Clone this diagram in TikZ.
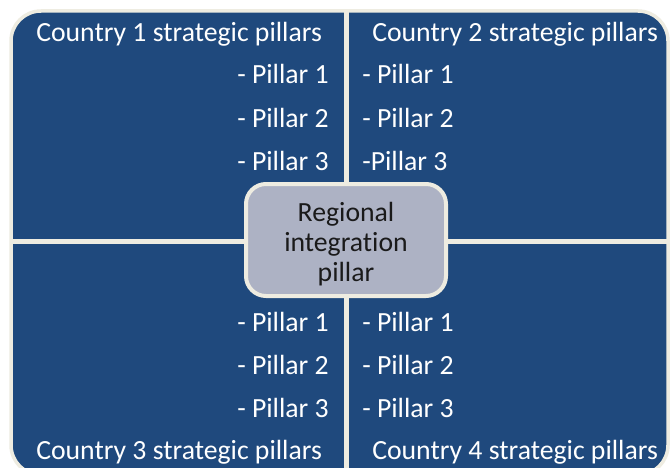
\documentclass[tikz,border=0pt]{standalone}
\usepackage{fontspec}
\setmainfont{Carlito}[Ligatures={NoCommon}]
\definecolor{quadblue}{HTML}{1F497D}
\definecolor{cream}{HTML}{EEECE1}
\definecolor{centerfill}{HTML}{ADB2C4}
\definecolor{centertext}{HTML}{1A1A1A}
\begin{document}
\begin{tikzpicture}[x=0.75pt,y=-0.75pt,
  lbl/.style={text=white,font=\fontsize{20.8}{24}\selectfont,inner sep=0pt},
  ctr/.style={text=centertext,font=\fontsize{20.8}{24}\selectfont,inner sep=0pt,anchor=base}]
\useasboundingbox (0,0) rectangle (670,467);
\fill[white] (0,0) rectangle (670,467);
\begin{scope}
\clip (0,0) rectangle (670,467);
% outer rounded panel
\draw[fill=quadblue,draw=cream,line width=3.5pt*0.75,rounded corners=30*0.75pt] (11,11) rectangle (668,475);
% separators
\fill[cream] (344,11) rectangle (349,475);
\fill[cream] (11,239) rectangle (668,244);
\end{scope}
% central box
\node[draw=cream,fill=centerfill,line width=4pt*0.75,rounded corners=20*0.75pt,
  minimum width=200*0.75pt,minimum height=112*0.75pt,inner sep=0pt] (center) at (346,240) {};
\node[ctr] (c1) at (346,221) {Regional};
\node[ctr] (c2) at (346,251) {integration};
\node[ctr] (c3) at (346,281) {pillar};
% quadrant 1
\node[lbl,anchor=base west] (q1t) at (36,41) {Country 1 strategic pillars};
\node[lbl,anchor=base east] (q1a) at (329,84) {- Pillar 1};
\node[lbl,anchor=base east] (q1b) at (329,127) {- Pillar 2};
\node[lbl,anchor=base east] (q1c) at (329,170) {- Pillar 3};
% quadrant 2
\node[lbl,anchor=base west] (q2t) at (372,41) {Country 2 strategic pillars};
\node[lbl,anchor=base west] (q2a) at (362,84) {- Pillar 1};
\node[lbl,anchor=base west] (q2b) at (362,127) {- Pillar 2};
\node[lbl,anchor=base west] (q2c) at (362,170) {-Pillar 3};
% quadrant 3
\node[lbl,anchor=base east] (q3a) at (329,331) {- Pillar 1};
\node[lbl,anchor=base east] (q3b) at (329,374) {- Pillar 2};
\node[lbl,anchor=base east] (q3c) at (329,417) {- Pillar 3};
\node[lbl,anchor=base west] (q3t) at (36,459) {Country 3 strategic pillars};
% quadrant 4
\node[lbl,anchor=base west] (q4a) at (362,331) {- Pillar 1};
\node[lbl,anchor=base west] (q4b) at (362,374) {- Pillar 2};
\node[lbl,anchor=base west] (q4c) at (362,417) {- Pillar 3};
\node[lbl,anchor=base west] (q4t) at (372,459) {Country 4 strategic pillars};
\end{tikzpicture}
\end{document}
